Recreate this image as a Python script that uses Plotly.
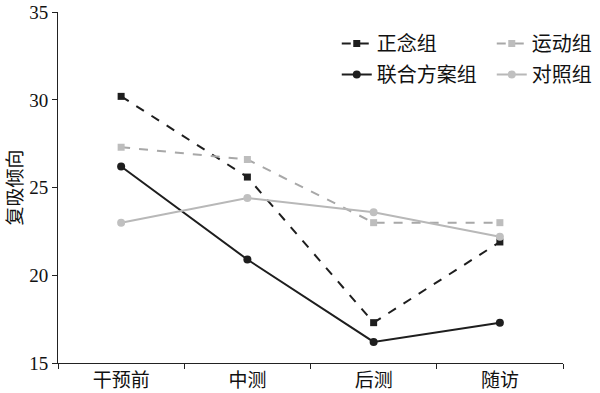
import plotly.graph_objects as go

categories = ["干预前", "中测", "后测", "随访"]
mindful = [30.2, 25.6, 17.3, 21.9]      # 正念组
exercise = [27.3, 26.6, 23.0, 23.0]     # 运动组
combined = [26.2, 20.9, 16.2, 17.3]     # 联合方案组
control = [23.0, 24.4, 23.6, 22.2]      # 对照组
y_ticks = [15, 20, 25, 30, 35]

fig = go.Figure()
fig.add_trace(go.Scatter(x=categories, y=mindful, name="正念组", mode="lines+markers",
                         line=dict(color="#1e1e1e", width=2, dash="dash"),
                         marker=dict(symbol="square", size=7, color="#1e1e1e"),
                         legend="legend"))
fig.add_trace(go.Scatter(x=categories, y=exercise, name="运动组", mode="lines+markers",
                         line=dict(color="#a8a8a8", width=2, dash="dash"),
                         marker=dict(symbol="square", size=7, color="#bdbdbd"),
                         legend="legend"))
fig.add_trace(go.Scatter(x=categories, y=combined, name="联合方案组", mode="lines+markers",
                         line=dict(color="#1e1e1e", width=2),
                         marker=dict(symbol="circle", size=8, color="#1e1e1e"),
                         legend="legend2"))
fig.add_trace(go.Scatter(x=categories, y=control, name="对照组", mode="lines+markers",
                         line=dict(color="#b8b8b8", width=2),
                         marker=dict(symbol="circle", size=8, color="#c0c0c0"),
                         legend="legend2"))

legend_common = dict(orientation="h", entrywidth=110, entrywidthmode="pixels",
                     xanchor="left", yanchor="middle", bgcolor="rgba(0,0,0,0)",
                     font=dict(family="Noto Sans CJK SC", size=20, color="#111"))

fig.update_layout(
    width=600, height=393,
    margin=dict(l=58, r=37, t=12, b=30, autoexpand=False),
    paper_bgcolor="white", plot_bgcolor="white",
    font=dict(family="Liberation Serif, Noto Sans CJK SC", color="#111"),
    showlegend=True,
    legend=dict(x=0.552, y=0.91, **legend_common),
    legend2=dict(x=0.552, y=0.822, **legend_common),
    xaxis=dict(
        type="category", range=[-0.5, 3.5], tickson="boundaries",
        showline=True, linecolor="#222", linewidth=1,
        ticks="outside", ticklen=5, tickcolor="#222",
        showgrid=False, zeroline=False, automargin=False,
        tickfont=dict(family="Noto Sans CJK SC", size=19, color="#111"),
    ),
    yaxis=dict(
        range=[15, 35.01], tickvals=y_ticks, ticktext=[str(v) for v in y_ticks],
        showline=True, linecolor="#222", linewidth=1,
        ticks="outside", ticklen=5, tickcolor="#222",
        showgrid=False, zeroline=False, automargin=False,
        ticklabeloverflow="allow",
        tickfont=dict(family="Liberation Serif", size=19, color="#111"),
        title=dict(text="复吸倾向", font=dict(family="Noto Sans CJK SC", size=19, color="#111"),
                   standoff=6),
    ),
)

fig.write_html("out.html", config={"displayModeBar": False},
               post_script="document.body.style.margin='0';document.body.style.padding='0';")
